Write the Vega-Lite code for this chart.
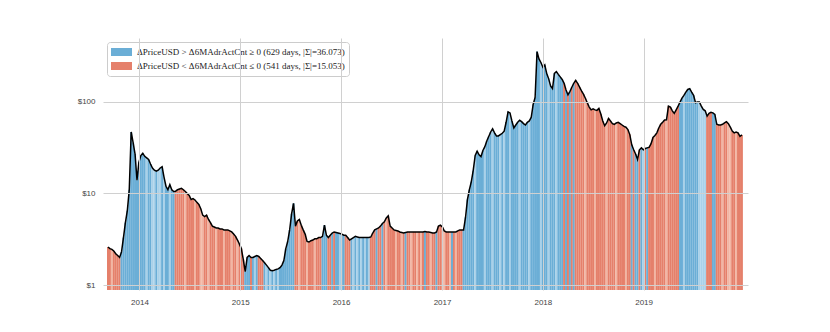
{
"$schema": "https://vega.github.io/schema/vega-lite/v6.json",
"width": 645, "height": 252,
"autosize": {"type": "none"},
"padding": {"left": 103, "top": 38, "right": 82, "bottom": 42},
"background": "white",
"config": {"view": {"stroke": null}, "font": "Liberation Sans"},
"data": {"values": [
{"d":"2013-09-09","p":2.6,"s":"O"},{"d":"2013-09-16","p":2.5,"s":"O"},{"d":"2013-09-23","p":2.45,"s":"o"},{"d":"2013-09-30","p":2.35,"s":"O"},
{"d":"2013-10-07","p":2.2,"s":"O"},{"d":"2013-10-14","p":2.1,"s":"O"},{"d":"2013-10-21","p":2.0,"s":"O"},{"d":"2013-10-28","p":2.3,"s":"B"},
{"d":"2013-11-04","p":3.3,"s":"B"},{"d":"2013-11-11","p":4.8,"s":"B"},{"d":"2013-11-18","p":6.5,"s":"B"},{"d":"2013-11-25","p":11,"s":"B"},
{"d":"2013-12-02","p":47,"s":"B"},{"d":"2013-12-09","p":36,"s":"B"},{"d":"2013-12-16","p":27,"s":"B"},{"d":"2013-12-23","p":14,"s":"B"},{"d":"2013-12-30","p":22,"s":"B"},
{"d":"2014-01-06","p":26,"s":"B"},{"d":"2014-01-13","p":27.5,"s":"B"},{"d":"2014-01-20","p":25.5,"s":"B"},{"d":"2014-01-27","p":24.5,"s":"b"},
{"d":"2014-02-03","p":23.5,"s":"B"},{"d":"2014-02-10","p":21,"s":"B"},{"d":"2014-02-17","p":19,"s":"b"},{"d":"2014-02-24","p":18,"s":"b"},
{"d":"2014-03-03","p":17.5,"s":"B"},{"d":"2014-03-10","p":18,"s":"b"},{"d":"2014-03-17","p":19,"s":"b"},{"d":"2014-03-24","p":19.6,"s":"B"},{"d":"2014-03-31","p":15,"s":"b"},
{"d":"2014-04-07","p":12,"s":"B"},{"d":"2014-04-14","p":11,"s":"B"},{"d":"2014-04-21","p":12.5,"s":"b"},{"d":"2014-04-28","p":11,"s":"B"},
{"d":"2014-05-05","p":10.5,"s":"B"},{"d":"2014-05-12","p":10.6,"s":"O"},{"d":"2014-05-19","p":11,"s":"O"},{"d":"2014-05-26","p":11.2,"s":"O"},
{"d":"2014-06-02","p":11.4,"s":"O"},{"d":"2014-06-09","p":11,"s":"O"},{"d":"2014-06-16","p":10.5,"s":"o"},{"d":"2014-06-23","p":10,"s":"O"},{"d":"2014-06-30","p":9.5,"s":"O"},
{"d":"2014-07-07","p":8.6,"s":"O"},{"d":"2014-07-14","p":8.8,"s":"O"},{"d":"2014-07-21","p":8.5,"s":"o"},{"d":"2014-07-28","p":8,"s":"O"},
{"d":"2014-08-04","p":7.6,"s":"O"},{"d":"2014-08-11","p":6.8,"s":"o"},{"d":"2014-08-18","p":5.8,"s":"o"},{"d":"2014-08-25","p":5.6,"s":"O"},
{"d":"2014-09-01","p":5.8,"s":"O"},{"d":"2014-09-08","p":5.2,"s":"o"},{"d":"2014-09-15","p":4.8,"s":"O"},{"d":"2014-09-22","p":4.4,"s":"O"},{"d":"2014-09-29","p":4.3,"s":"O"},
{"d":"2014-10-06","p":4.2,"s":"o"},{"d":"2014-10-13","p":4.2,"s":"O"},{"d":"2014-10-20","p":4.1,"s":"O"},{"d":"2014-10-27","p":4.1,"s":"O"},
{"d":"2014-11-03","p":4.0,"s":"o"},{"d":"2014-11-10","p":4.0,"s":"O"},{"d":"2014-11-17","p":4.0,"s":"O"},{"d":"2014-11-24","p":3.9,"s":"O"},
{"d":"2014-12-01","p":3.8,"s":"o"},{"d":"2014-12-08","p":3.6,"s":"O"},{"d":"2014-12-15","p":3.4,"s":"O"},{"d":"2014-12-22","p":3.1,"s":"o"},{"d":"2014-12-29","p":2.8,"s":"O"},
{"d":"2015-01-05","p":2.5,"s":"O"},{"d":"2015-01-12","p":1.9,"s":"O"},{"d":"2015-01-19","p":1.4,"s":"B"},{"d":"2015-01-26","p":2.0,"s":"B"},
{"d":"2015-02-02","p":2.1,"s":"B"},{"d":"2015-02-09","p":2.0,"s":"O"},{"d":"2015-02-16","p":2.0,"s":"B"},{"d":"2015-02-23","p":2.05,"s":"b"},
{"d":"2015-03-02","p":2.1,"s":"B"},{"d":"2015-03-09","p":2.05,"s":"O"},{"d":"2015-03-16","p":1.95,"s":"O"},{"d":"2015-03-23","p":1.85,"s":"O"},{"d":"2015-03-30","p":1.75,"s":"B"},
{"d":"2015-04-06","p":1.65,"s":"b"},{"d":"2015-04-13","p":1.55,"s":"B"},{"d":"2015-04-20","p":1.45,"s":"b"},{"d":"2015-04-27","p":1.43,"s":"B"},
{"d":"2015-05-04","p":1.45,"s":"b"},{"d":"2015-05-11","p":1.48,"s":"B"},{"d":"2015-05-18","p":1.5,"s":"b"},{"d":"2015-05-25","p":1.55,"s":"B"},
{"d":"2015-06-01","p":1.65,"s":"B"},{"d":"2015-06-08","p":1.85,"s":"B"},{"d":"2015-06-15","p":2.5,"s":"B"},{"d":"2015-06-22","p":3.0,"s":"B"},{"d":"2015-06-29","p":4.0,"s":"B"},
{"d":"2015-07-06","p":6.0,"s":"B"},{"d":"2015-07-13","p":7.8,"s":"B"},{"d":"2015-07-20","p":4.4,"s":"O"},{"d":"2015-07-27","p":5.0,"s":"O"},
{"d":"2015-08-03","p":5.2,"s":"o"},{"d":"2015-08-10","p":4.5,"s":"O"},{"d":"2015-08-17","p":4.0,"s":"O"},{"d":"2015-08-24","p":3.6,"s":"O"},{"d":"2015-08-31","p":3.0,"s":"o"},
{"d":"2015-09-07","p":2.95,"s":"O"},{"d":"2015-09-14","p":3.05,"s":"O"},{"d":"2015-09-21","p":3.1,"s":"O"},{"d":"2015-09-28","p":3.2,"s":"o"},
{"d":"2015-10-05","p":3.2,"s":"O"},{"d":"2015-10-12","p":3.3,"s":"O"},{"d":"2015-10-19","p":3.3,"s":"O"},{"d":"2015-10-26","p":3.4,"s":"B"},
{"d":"2015-11-02","p":4.5,"s":"B"},{"d":"2015-11-09","p":3.5,"s":"B"},{"d":"2015-11-16","p":3.3,"s":"O"},{"d":"2015-11-23","p":3.5,"s":"O"},{"d":"2015-11-30","p":3.7,"s":"B"},
{"d":"2015-12-07","p":3.8,"s":"O"},{"d":"2015-12-14","p":3.75,"s":"B"},{"d":"2015-12-21","p":3.7,"s":"B"},{"d":"2015-12-28","p":3.65,"s":"b"},
{"d":"2016-01-04","p":3.6,"s":"B"},{"d":"2016-01-11","p":3.5,"s":"B"},{"d":"2016-01-18","p":3.5,"s":"O"},{"d":"2016-01-25","p":3.3,"s":"O"},
{"d":"2016-02-01","p":3.1,"s":"O"},{"d":"2016-02-08","p":3.2,"s":"B"},{"d":"2016-02-15","p":3.3,"s":"b"},{"d":"2016-02-22","p":3.4,"s":"B"},{"d":"2016-02-29","p":3.35,"s":"b"},
{"d":"2016-03-07","p":3.3,"s":"B"},{"d":"2016-03-14","p":3.3,"s":"b"},{"d":"2016-03-21","p":3.3,"s":"B"},{"d":"2016-03-28","p":3.3,"s":"b"},
{"d":"2016-04-04","p":3.3,"s":"B"},{"d":"2016-04-11","p":3.3,"s":"b"},{"d":"2016-04-18","p":3.35,"s":"O"},{"d":"2016-04-25","p":3.7,"s":"O"},
{"d":"2016-05-02","p":4.0,"s":"O"},{"d":"2016-05-09","p":4.1,"s":"B"},{"d":"2016-05-16","p":4.2,"s":"O"},{"d":"2016-05-23","p":4.4,"s":"O"},{"d":"2016-05-30","p":4.7,"s":"B"},
{"d":"2016-06-06","p":4.9,"s":"O"},{"d":"2016-06-13","p":5.4,"s":"o"},{"d":"2016-06-20","p":5.7,"s":"O"},{"d":"2016-06-27","p":4.4,"s":"O"},
{"d":"2016-07-04","p":4.2,"s":"O"},{"d":"2016-07-11","p":4.0,"s":"O"},{"d":"2016-07-18","p":3.95,"s":"o"},{"d":"2016-07-25","p":3.9,"s":"O"},
{"d":"2016-08-01","p":3.8,"s":"O"},{"d":"2016-08-08","p":3.75,"s":"o"},{"d":"2016-08-15","p":3.7,"s":"O"},{"d":"2016-08-22","p":3.75,"s":"B"},{"d":"2016-08-29","p":3.8,"s":"O"},
{"d":"2016-09-05","p":3.8,"s":"O"},{"d":"2016-09-12","p":3.8,"s":"o"},{"d":"2016-09-19","p":3.8,"s":"O"},{"d":"2016-09-26","p":3.8,"s":"O"},
{"d":"2016-10-03","p":3.8,"s":"o"},{"d":"2016-10-10","p":3.8,"s":"O"},{"d":"2016-10-17","p":3.8,"s":"o"},{"d":"2016-10-24","p":3.8,"s":"O"},{"d":"2016-10-31","p":3.85,"s":"B"},
{"d":"2016-11-07","p":3.8,"s":"O"},{"d":"2016-11-14","p":3.8,"s":"O"},{"d":"2016-11-21","p":3.75,"s":"o"},{"d":"2016-11-28","p":3.7,"s":"O"},
{"d":"2016-12-05","p":3.7,"s":"O"},{"d":"2016-12-12","p":3.8,"s":"B"},{"d":"2016-12-19","p":4.4,"s":"O"},{"d":"2016-12-26","p":4.5,"s":"O"},
{"d":"2017-01-02","p":4.3,"s":"O"},{"d":"2017-01-09","p":3.9,"s":"o"},{"d":"2017-01-16","p":3.8,"s":"O"},{"d":"2017-01-23","p":3.8,"s":"O"},{"d":"2017-01-30","p":3.8,"s":"o"},
{"d":"2017-02-06","p":3.8,"s":"B"},{"d":"2017-02-13","p":3.8,"s":"O"},{"d":"2017-02-20","p":3.8,"s":"o"},{"d":"2017-02-27","p":3.9,"s":"O"},
{"d":"2017-03-06","p":4.0,"s":"O"},{"d":"2017-03-13","p":4.0,"s":"O"},{"d":"2017-03-20","p":4.0,"s":"B"},{"d":"2017-03-27","p":5.5,"s":"B"},
{"d":"2017-04-03","p":8.6,"s":"B"},{"d":"2017-04-10","p":11,"s":"B"},{"d":"2017-04-17","p":13.5,"s":"B"},{"d":"2017-04-24","p":18,"s":"B"},
{"d":"2017-05-01","p":26,"s":"b"},{"d":"2017-05-08","p":29,"s":"B"},{"d":"2017-05-15","p":26.5,"s":"B"},{"d":"2017-05-22","p":25.3,"s":"B"},{"d":"2017-05-29","p":29.5,"s":"B"},
{"d":"2017-06-05","p":32.5,"s":"b"},{"d":"2017-06-12","p":37.5,"s":"B"},{"d":"2017-06-19","p":42,"s":"B"},{"d":"2017-06-26","p":47,"s":"B"},
{"d":"2017-07-03","p":51,"s":"b"},{"d":"2017-07-10","p":46,"s":"B"},{"d":"2017-07-17","p":42.5,"s":"B"},{"d":"2017-07-24","p":42.5,"s":"B"},{"d":"2017-07-31","p":44,"s":"b"},
{"d":"2017-08-07","p":45.5,"s":"B"},{"d":"2017-08-14","p":48,"s":"b"},{"d":"2017-08-21","p":60,"s":"B"},{"d":"2017-08-28","p":78,"s":"B"},
{"d":"2017-09-04","p":76,"s":"b"},{"d":"2017-09-11","p":62,"s":"B"},{"d":"2017-09-18","p":52,"s":"B"},{"d":"2017-09-25","p":56,"s":"B"},
{"d":"2017-10-02","p":60,"s":"B"},{"d":"2017-10-09","p":63,"s":"b"},{"d":"2017-10-16","p":61,"s":"B"},{"d":"2017-10-23","p":58,"s":"B"},{"d":"2017-10-30","p":56,"s":"B"},
{"d":"2017-11-06","p":60,"s":"B"},{"d":"2017-11-13","p":62,"s":"b"},{"d":"2017-11-20","p":68,"s":"B"},{"d":"2017-11-27","p":94,"s":"B"},
{"d":"2017-12-04","p":112,"s":"B"},{"d":"2017-12-11","p":355,"s":"B"},{"d":"2017-12-18","p":295,"s":"B"},{"d":"2017-12-25","p":270,"s":"b"},
{"d":"2018-01-01","p":240,"s":"B"},{"d":"2018-01-08","p":254,"s":"B"},{"d":"2018-01-15","p":205,"s":"B"},{"d":"2018-01-22","p":180,"s":"b"},{"d":"2018-01-29","p":150,"s":"B"},
{"d":"2018-02-05","p":140,"s":"B"},{"d":"2018-02-12","p":205,"s":"B"},{"d":"2018-02-19","p":215,"s":"b"},{"d":"2018-02-26","p":200,"s":"B"},
{"d":"2018-03-05","p":188,"s":"B"},{"d":"2018-03-12","p":176,"s":"B"},{"d":"2018-03-19","p":160,"s":"O"},{"d":"2018-03-26","p":135,"s":"B"},
{"d":"2018-04-02","p":120,"s":"O"},{"d":"2018-04-09","p":130,"s":"B"},{"d":"2018-04-16","p":145,"s":"O"},{"d":"2018-04-23","p":160,"s":"B"},{"d":"2018-04-30","p":172,"s":"O"},
{"d":"2018-05-07","p":160,"s":"O"},{"d":"2018-05-14","p":145,"s":"O"},{"d":"2018-05-21","p":132,"s":"O"},{"d":"2018-05-28","p":122,"s":"O"},
{"d":"2018-06-04","p":110,"s":"o"},{"d":"2018-06-11","p":98,"s":"O"},{"d":"2018-06-18","p":88,"s":"O"},{"d":"2018-06-25","p":82,"s":"O"},
{"d":"2018-07-02","p":84,"s":"O"},{"d":"2018-07-09","p":82,"s":"o"},{"d":"2018-07-16","p":81,"s":"O"},{"d":"2018-07-23","p":85,"s":"O"},{"d":"2018-07-30","p":74,"s":"O"},
{"d":"2018-08-06","p":62,"s":"O"},{"d":"2018-08-13","p":55,"s":"O"},{"d":"2018-08-20","p":59,"s":"o"},{"d":"2018-08-27","p":66,"s":"O"},
{"d":"2018-09-03","p":62,"s":"O"},{"d":"2018-09-10","p":58,"s":"O"},{"d":"2018-09-17","p":57,"s":"O"},{"d":"2018-09-24","p":59,"s":"o"},
{"d":"2018-10-01","p":60,"s":"O"},{"d":"2018-10-08","p":58,"s":"O"},{"d":"2018-10-15","p":56,"s":"O"},{"d":"2018-10-22","p":54,"s":"O"},{"d":"2018-10-29","p":53,"s":"o"},
{"d":"2018-11-05","p":50,"s":"O"},{"d":"2018-11-12","p":44,"s":"O"},{"d":"2018-11-19","p":34,"s":"B"},{"d":"2018-11-26","p":30,"s":"O"},
{"d":"2018-12-03","p":27,"s":"B"},{"d":"2018-12-10","p":23.5,"s":"B"},{"d":"2018-12-17","p":30,"s":"O"},{"d":"2018-12-24","p":31.5,"s":"B"},{"d":"2018-12-31","p":30,"s":"b"},
{"d":"2019-01-07","p":31,"s":"O"},{"d":"2019-01-14","p":31.5,"s":"B"},{"d":"2019-01-21","p":32,"s":"O"},{"d":"2019-01-28","p":35,"s":"O"},
{"d":"2019-02-04","p":41,"s":"O"},{"d":"2019-02-11","p":43,"s":"o"},{"d":"2019-02-18","p":46,"s":"O"},{"d":"2019-02-25","p":52,"s":"O"},
{"d":"2019-03-04","p":57,"s":"O"},{"d":"2019-03-11","p":60,"s":"O"},{"d":"2019-03-18","p":63.6,"s":"O"},{"d":"2019-03-25","p":64,"s":"o"},
{"d":"2019-04-01","p":90,"s":"O"},{"d":"2019-04-08","p":88,"s":"O"},{"d":"2019-04-15","p":80,"s":"O"},{"d":"2019-04-22","p":75,"s":"O"},{"d":"2019-04-29","p":82,"s":"O"},
{"d":"2019-05-06","p":90,"s":"O"},{"d":"2019-05-13","p":100,"s":"B"},{"d":"2019-05-20","p":110,"s":"B"},{"d":"2019-05-27","p":118,"s":"b"},
{"d":"2019-06-03","p":128,"s":"B"},{"d":"2019-06-10","p":137,"s":"B"},{"d":"2019-06-17","p":140,"s":"B"},{"d":"2019-06-24","p":128,"s":"B"},
{"d":"2019-07-01","p":118,"s":"B"},{"d":"2019-07-08","p":98,"s":"B"},{"d":"2019-07-15","p":100,"s":"B"},{"d":"2019-07-22","p":100,"s":"b"},{"d":"2019-07-29","p":90,"s":"b"},
{"d":"2019-08-05","p":83,"s":"b"},{"d":"2019-08-12","p":80,"s":"b"},{"d":"2019-08-19","p":70,"s":"O"},{"d":"2019-08-26","p":75,"s":"O"},
{"d":"2019-09-02","p":77,"s":"O"},{"d":"2019-09-09","p":76,"s":"B"},{"d":"2019-09-16","p":73,"s":"B"},{"d":"2019-09-23","p":57,"s":"O"},{"d":"2019-09-30","p":56,"s":"O"},
{"d":"2019-10-07","p":56,"s":"O"},{"d":"2019-10-14","p":57,"s":"o"},{"d":"2019-10-21","p":59,"s":"O"},{"d":"2019-10-28","p":61,"s":"O"},
{"d":"2019-11-04","p":58,"s":"o"},{"d":"2019-11-11","p":53,"s":"o"},{"d":"2019-11-18","p":48,"s":"O"},{"d":"2019-11-25","p":46,"s":"O"},
{"d":"2019-12-02","p":47,"s":"o"},{"d":"2019-12-09","p":46,"s":"O"},{"d":"2019-12-16","p":42,"s":"O"},{"d":"2019-12-23","p":43.6,"s":"O"}
]},
"encoding": {
  "x": {"field": "d", "type": "temporal",
        "scale": {"domain": [{"year": 2013, "month": 9, "date": 9}, {"year": 2019, "month": 12, "date": 27}]},
        "axis": {"format": "%Y", "values": [{"year": 2014, "month": 1, "date": 1}, {"year": 2015, "month": 1, "date": 1}, {"year": 2016, "month": 1, "date": 1}, {"year": 2017, "month": 1, "date": 1}, {"year": 2018, "month": 1, "date": 1}, {"year": 2019, "month": 1, "date": 1}],
                 "grid": true, "gridColor": "#d0d0d0", "gridWidth": 1, "domain": false, "ticks": false,
                 "labelColor": "#444444", "labelFontSize": 8, "labelPadding": 8, "title": null, "zindex": 1, "labelFont": "Liberation Sans"}},
  "y": {"field": "p", "type": "quantitative",
        "scale": {"type": "log", "domain": [0.882, 500], "nice": false},
        "axis": {"values": [1, 10, 100], "labelExpr": "'$' + datum.value", "grid": true, "gridColor": "#d0d0d0", "gridWidth": 1,
                 "domain": false, "ticks": false, "labelColor": "#444444", "labelFontSize": 8, "labelPadding": 8, "title": null, "zindex": 1, "labelFont": "Liberation Sans"}}
},
"layer": [
  {"mark": {"type": "bar", "width": 2, "clip": true},
   "encoding": {
     "y2": {"datum": 0.882},
     "color": {"field": "s", "type": "nominal",
               "scale": {"domain": ["B", "O", "b", "o"], "range": ["#6baed6", "#e5806b", "#a9d1e9", "#f2b6a4"]},
               "legend": {"values": ["B", "O"], "title": null, "orient": "top-left", "offset": 4,
                          "labelExpr": "datum.value == 'B' ? 'ΔPriceUSD > Δ6MAdrActCnt ≥ 0 (629 days, |Σ|=36.073)' : 'ΔPriceUSD < Δ6MAdrActCnt ≤ 0 (541 days, |Σ|=15.053)'",
                          "symbolType": "M-1,-0.38H1V0.38H-1Z", "symbolSize": 441, "symbolStrokeWidth": 0, "symbolOpacity": 1,
                          "clipHeight": 12, "rowPadding": 2, "fillColor": "white", "strokeColor": "#cccccc", "cornerRadius": 3, "padding": 4,
                          "labelFont": "Liberation Serif", "labelFontSize": 9, "labelColor": "#222222", "labelLimit": 400, "labelOffset": 5}}
   }},
  {"mark": {"type": "line", "color": "black", "strokeWidth": 1.5, "clip": true}, "encoding": {}}
]
}
